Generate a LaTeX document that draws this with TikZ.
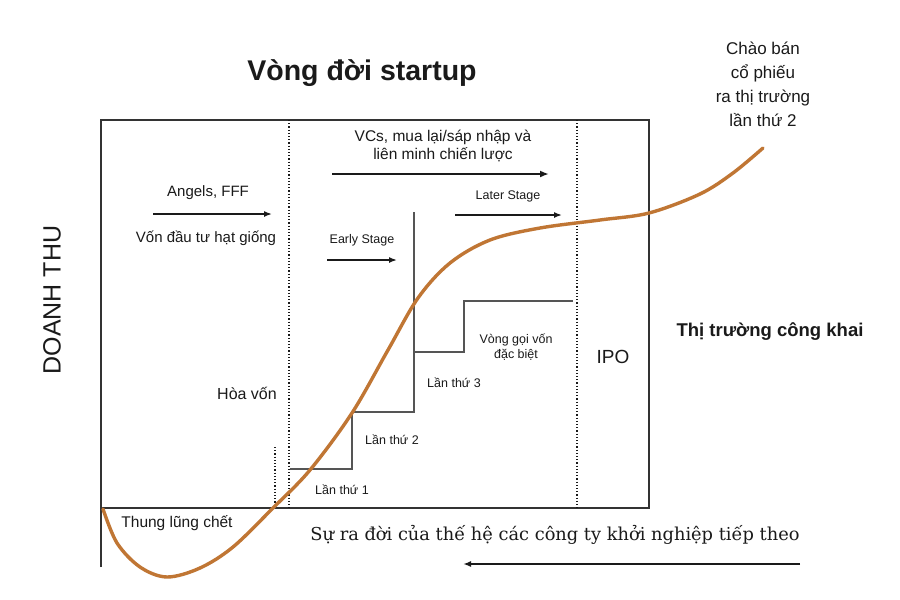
\documentclass[tikz,border=0pt]{standalone}
\usepackage{fontspec}
\setmainfont{Liberation Sans}
\newfontfamily\slabfont{DejaVu Serif}
\usepackage{xcolor}
\usetikzlibrary{arrows.meta}
\definecolor{ink}{HTML}{1A1A1A}
\definecolor{edge}{HTML}{333333}
\definecolor{stairgray}{HTML}{555555}
\definecolor{life}{HTML}{C07634}
\tikzset{
  frame/.style={draw=edge, line width=1.8pt},
  sep/.style={draw=ink, dotted, line width=1.2pt},
  stair/.style={draw=stairgray, line width=1.3pt},
  lifeline/.style={draw=life, line width=3.4pt, line cap=round, line join=round},
  arr/.style={draw=ink, line width=1.5pt, -{Latex[length=8pt,width=6pt]}},
  arrthick/.style={draw=ink, line width=2.8pt, -{Latex[length=9pt,width=7pt]}},
  lab/.style={text=ink, inner sep=0pt, align=center},
  labs/.style={lab, font=\fontsize{12.5}{15}\selectfont},
  labm/.style={lab, font=\fontsize{15}{18}\selectfont},
  labb/.style={lab, font=\bfseries\fontsize{18.5}{22}\selectfont}
}

\begin{document}
\begin{tikzpicture}[x=1pt, y=-1pt]
  \useasboundingbox[fill=white] (0,0) rectangle (900,600);
  % frame and phase separators
  \draw[frame] (101,567) -- (101,120) -- (649,120) -- (649,508) -- (101,508);
  \draw[sep] (289,120) -- (289,508);
  \draw[sep] (577,120) -- (577,508);
  \draw[sep] (275,447) -- (275,503);
  % funding rounds
  \draw[stair] (290,469) -- (352,469) -- (352,412) -- (414,412) -- (414,212);
  \draw[stair] (414,352) -- (464,352) -- (464,301) -- (573,301);
  % life curve
  \draw[lifeline] plot[smooth, tension=0.55] coordinates {
    (103,509) (117,543) (140,567) (167,577) (200,568) (233,547)
    (273,508) (310,470) (352,413) (388,350) (418,298) (450,263) (490,240)
    (540,228) (600,220) (649,213) (700,194) (733,173) (763,148)};
  % labels
  \node[lab, font=\bfseries\fontsize{28.5}{32}\selectfont] (title) at (362,73) {Vòng đời startup};
  \node[lab, font=\fontsize{17}{24}\selectfont] (ipo2) at (763,84) {Chào bán\\cổ phiếu\\ra thị trường\\lần thứ 2};
  \node[lab, rotate=90, font=\fontsize{25}{30}\selectfont] (revenue) at (52,300) {DOANH THU};
  \node[labm] (angels) at (208,193) {Angels, FFF};
  \node[labm] (seed) at (206,238) {Vốn đầu tư hạt giống};
  \node[labm, font=\fontsize{15.5}{18}\selectfont] (vcs) at (443,146) {VCs, mua lại/sáp nhập và\\liên minh chiến lược};
  \node[labs] (early) at (362,240) {Early Stage};
  \node[labs] (later) at (508,196) {Later Stage};
  \node[lab, font=\fontsize{16}{19}\selectfont] (even) at (247,393) {Hòa vốn};
  \node[labs] (r1) at (342,490) {Lần thứ 1};
  \node[labs] (r2) at (392,440) {Lần thứ 2};
  \node[labs] (r3) at (454,383) {Lần thứ 3};
  \node[labs] (special) at (516,347) {Vòng gọi vốn\\đặc biệt};
  \node[lab, font=\fontsize{19}{22}\selectfont] (ipo) at (613,357) {IPO};
  \node[labb] (public) at (770,332) {Thị trường công khai};
  \node[labm, font=\fontsize{15.5}{18}\selectfont] (valley) at (177,523) {Thung lũng chết};
  \node[lab, font=\slabfont\fontsize{17.8}{21}\selectfont] (next) at (555,535) {Sự ra đời của thế hệ các công ty khởi nghiệp tiếp theo};
  % arrows
  \coordinate (angelsA) at (153,214);
  \coordinate (angelsB) at (272,214);
  \coordinate (vcsA) at (332,174);
  \coordinate (vcsB) at (549,174);
  \coordinate (earlyA) at (327,260);
  \coordinate (earlyB) at (397,260);
  \coordinate (laterA) at (455,215);
  \coordinate (laterB) at (562,215);
  \coordinate (nextA) at (800,564);
  \coordinate (nextB) at (463,564);
  \draw[arr] (angelsA) -- (angelsB);
  \draw[arrthick] (vcsA) -- (vcsB);
  \draw[arr] (earlyA) -- (earlyB);
  \draw[arr] (laterA) -- (laterB);
  \draw[arr, line width=2pt] (nextA) -- (nextB);
\end{tikzpicture}
\end{document}
